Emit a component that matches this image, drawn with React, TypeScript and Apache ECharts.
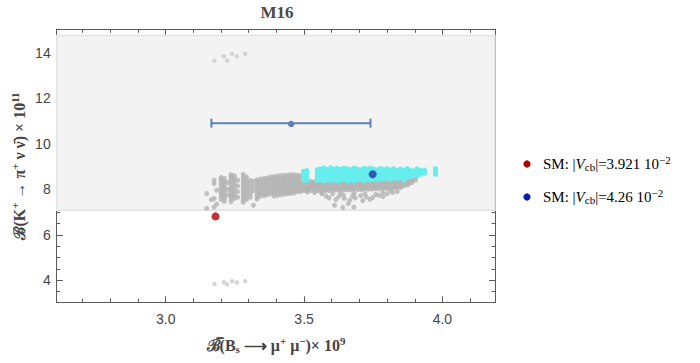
import React, { useEffect, useRef } from "react";
import * as echarts from "echarts";

const X_MIN = 2.606;
const X_MAX = 4.19;
const Y_MIN = 3.03;
const Y_MAX = 15.04;
const X_MAJOR = [3.0, 3.5, 4.0];
const X_MINOR = [2.7, 2.8, 2.9, 3.1, 3.2, 3.3, 3.4, 3.6, 3.7, 3.8, 3.9, 4.1];
const Y_MAJOR = [4, 6, 8, 10, 12, 14];
const Y_MINOR = [3.5, 4.5, 5, 5.5, 6.5, 7, 7.5, 8.5, 9, 9.5, 10.5, 11, 11.5, 12.5, 13, 13.5, 14.5];

// experimental band
const BAND = [7.08, 14.77];

// error bar: [center x, y, low x, high x]
const ERROR_BAR = [[3.453, 10.91, 3.165, 3.74]];

const SM_RED = [[3.18, 6.81]];
const SM_BLUE = [[3.748, 8.66]];

// gray scan points, grouped by column: [x, y values]
const GRAY_COLS: [number, number[]][] = [
  [3.148, [7.81, 7.16]],
  [3.165, [7.55]],
  [3.175, [8.4, 8.25, 7.59, 7.22]],
  [3.184, [7.96, 7.35]],
  [3.2, [8.52, 8.42, 8.3, 8.18, 8.05, 7.92, 7.8, 7.68, 7.55]],
  [3.212, [8.48, 8.35, 8.22, 8.1, 7.98, 7.85, 7.72, 7.6, 7.47]],
  [3.224, [8.3, 8.0, 7.75]],
  [3.236, [8.65, 8.55, 8.45, 8.33, 8.2, 8.08, 7.95, 7.83, 7.7, 7.58, 7.45]],
  [3.248, [8.6, 8.48, 8.35, 8.22, 8.1, 7.97, 7.85, 7.72, 7.6]],
  [3.26, [8.4, 8.15, 7.9, 7.65]],
  [3.28, [8.66, 8.55, 8.43, 8.3, 8.18, 8.05, 7.93, 7.8, 7.68, 7.55, 7.43]],
  [3.292, [8.55, 8.42, 8.3, 8.17, 8.05, 7.92, 7.8, 7.67, 7.55]],
  [3.306, [8.4, 8.25, 8.1, 7.95, 7.8, 7.65]],
  [3.317, [8.35, 8.15, 7.95, 7.3]],
  [3.33, [8.42, 8.3, 8.18, 8.05, 7.93, 7.8, 7.68, 7.57]],
  [3.342, [8.45, 8.33, 8.2, 8.08, 7.95, 7.82, 7.7]],
  [3.355, [8.48, 8.35, 8.22, 8.1, 7.97, 7.85, 7.72]],
  [3.367, [8.5, 8.38, 8.25, 8.12, 8.0, 7.88, 7.76]],
  [3.38, [8.55, 8.42, 8.3, 8.17, 8.05, 7.92, 7.8]],
  [3.392, [8.56, 8.44, 8.32, 8.2, 8.08, 7.95, 7.83, 7.7]],
  [3.404, [8.58, 8.46, 8.34, 8.22, 8.1, 7.98, 7.86, 7.74]],
  [3.416, [8.6, 8.48, 8.36, 8.24, 8.12, 8.0, 7.88, 7.76]],
  [3.428, [8.62, 8.5, 8.38, 8.26, 8.14, 8.02, 7.9, 7.78]],
  [3.44, [8.62, 8.5, 8.38, 8.26, 8.14, 8.02, 7.9, 7.8]],
  [3.452, [8.64, 8.52, 8.4, 8.28, 8.16, 8.04, 7.92, 7.82]],
  [3.464, [8.64, 8.52, 8.4, 8.28, 8.16, 8.04, 7.92, 7.84]],
  [3.476, [8.62, 8.5, 8.38, 8.26, 8.14, 8.02, 7.9]],
  [3.488, [8.6, 8.48, 8.36, 8.24, 8.12, 8.0, 7.9]],
  [3.5, [8.55, 8.43, 8.31, 8.19, 8.07, 7.95]],
  [3.512, [8.35, 8.25, 8.15, 8.05, 7.95, 7.88]],
  [3.525, [8.35, 8.25, 8.15, 8.05, 7.95]],
  [3.538, [8.33, 8.23, 8.13, 8.03, 7.93, 7.86]],
  [3.551, [8.34, 8.24, 8.14, 8.04, 7.94]],
  [3.564, [8.33, 8.23, 8.13, 8.03, 7.93, 7.85]],
  [3.577, [8.34, 8.24, 8.14, 8.04, 7.94]],
  [3.59, [8.33, 8.23, 8.13, 8.03, 7.95]],
  [3.603, [8.34, 8.24, 8.14, 8.04, 7.96, 7.8]],
  [3.616, [8.35, 8.25, 8.15, 8.05, 7.97]],
  [3.629, [8.34, 8.24, 8.14, 8.04, 7.96]],
  [3.642, [8.35, 8.25, 8.15, 8.05, 7.98, 7.75]],
  [3.655, [8.36, 8.26, 8.16, 8.06, 7.98]],
  [3.668, [8.35, 8.25, 8.15, 8.05, 7.97]],
  [3.681, [8.36, 8.26, 8.16, 8.06, 7.99, 7.82]],
  [3.694, [8.37, 8.27, 8.17, 8.07, 7.99]],
  [3.707, [8.36, 8.26, 8.16, 8.06, 7.98]],
  [3.72, [8.37, 8.27, 8.17, 8.07, 8.0, 7.8]],
  [3.733, [8.38, 8.28, 8.18, 8.08, 8.0]],
  [3.746, [8.38, 8.28, 8.18, 8.08, 8.01]],
  [3.759, [8.39, 8.29, 8.19, 8.09, 8.02, 7.78]],
  [3.772, [8.4, 8.3, 8.2, 8.1, 8.02]],
  [3.785, [8.4, 8.3, 8.2, 8.1, 8.03, 7.85]],
  [3.798, [8.41, 8.31, 8.21, 8.11, 8.04]],
  [3.811, [8.42, 8.32, 8.22, 8.12, 8.05, 7.95]],
  [3.824, [8.42, 8.32, 8.22, 8.12, 8.05]],
  [3.837, [8.43, 8.33, 8.23, 8.13, 8.06, 7.9]],
  [3.85, [8.44, 8.34, 8.24, 8.14, 8.08]],
  [3.863, [8.45, 8.35, 8.25, 8.17]],
  [3.876, [8.46, 8.36, 8.26, 8.2]],
  [3.889, [8.46, 8.38, 8.3]],
  [3.902, [8.48, 8.4]],
];

// scattered gray points below the main band
const GRAY_LOW = [
  [3.565, 7.8], [3.58, 7.7], [3.59, 7.62], [3.61, 7.3], [3.615, 7.55],
  [3.625, 7.68], [3.632, 7.82], [3.64, 7.2], [3.645, 7.6], [3.66, 7.37],
  [3.665, 7.52], [3.675, 7.7], [3.68, 7.22], [3.685, 7.62], [3.705, 7.72],
  [3.712, 7.5], [3.725, 7.66], [3.738, 7.56], [3.748, 7.64], [3.77, 7.74],
  [3.785, 7.68], [3.8, 7.8], [3.82, 7.86],
];
// far outliers
const GRAY_OUT = [
  [3.176, 13.66], [3.21, 13.85], [3.222, 13.66], [3.24, 13.96], [3.257, 13.85], [3.287, 13.96],
  [3.176, 3.84], [3.21, 3.91], [3.222, 3.82], [3.24, 3.96], [3.257, 3.9], [3.287, 3.96],
];

// cyan points, grouped as columns: [x, y low, y high]
const CYAN_COLS = [
  [3.498, 8.3, 8.9], [3.51, 8.28, 8.94], [3.548, 8.28, 8.97], [3.56, 8.32, 9.02],
  [3.572, 8.26, 9.05], [3.584, 8.3, 8.98], [3.596, 8.28, 9.06], [3.608, 8.33, 9.0],
  [3.62, 8.26, 9.04], [3.632, 8.3, 8.99], [3.644, 8.34, 9.04], [3.656, 8.27, 9.01],
  [3.668, 8.3, 8.98], [3.68, 8.26, 9.05], [3.692, 8.31, 9.0], [3.704, 8.34, 8.97],
  [3.716, 8.28, 9.04], [3.728, 8.33, 9.0], [3.74, 8.3, 9.05], [3.752, 8.36, 9.0],
  [3.764, 8.31, 8.97], [3.776, 8.36, 9.03], [3.788, 8.34, 8.98], [3.8, 8.4, 9.02],
  [3.812, 8.33, 8.96], [3.824, 8.42, 9.02], [3.836, 8.36, 8.95], [3.848, 8.44, 9.0],
  [3.86, 8.3, 8.95], [3.872, 8.42, 9.03], [3.884, 8.46, 8.96], [3.896, 8.52, 8.92],
  [3.908, 8.48, 9.02], [3.92, 8.55, 8.95], [3.935, 8.6, 8.96], [3.975, 8.55, 9.03],
];

const LEGEND_LABELS = ["3.921", "4.26"];
const LEGEND_COLORS = ["#a80000", "#0c1ca8"];

const FRAME = "#5a5a5a";
const LABEL_FONT = "Liberation Sans";
const SERIF = "Liberation Serif";

function mkX(position: "bottom" | "top", major: boolean, labels: boolean) {
  return {
    type: "value",
    position,
    min: X_MIN,
    max: X_MAX,
    axisLine: { show: true, onZero: false, lineStyle: { color: FRAME, width: 1 } },
    axisTick: {
      show: true,
      inside: true,
      length: major ? 6 : 3.5,
      customValues: major ? X_MAJOR : X_MINOR,
      lineStyle: { color: FRAME, width: 1 },
    },
    axisLabel: labels
      ? {
          show: true,
          customValues: X_MAJOR,
          formatter: (v: number) => v.toFixed(1),
          margin: 10,
          fontSize: 14,
          color: "#444",
          fontFamily: LABEL_FONT,
        }
      : { show: false },
    splitLine: { show: false },
  };
}

function mkY(position: "left" | "right", major: boolean, labels: boolean) {
  return {
    type: "value",
    position,
    min: Y_MIN,
    max: Y_MAX,
    axisLine: { show: true, onZero: false, lineStyle: { color: FRAME, width: 1 } },
    axisTick: {
      show: true,
      inside: true,
      length: major ? 6 : 3.5,
      customValues: major ? Y_MAJOR : Y_MINOR,
      lineStyle: { color: FRAME, width: 1 },
    },
    axisLabel: labels
      ? {
          show: true,
          customValues: Y_MAJOR,
          formatter: (v: number) => String(v),
          margin: 6,
          fontSize: 14,
          color: "#444",
          fontFamily: LABEL_FONT,
        }
      : { show: false },
    splitLine: { show: false },
  };
}

export default function App() {
  const ref = useRef<HTMLDivElement>(null);

  useEffect(() => {
    document.body.style.margin = "0";
    if (!ref.current) return;
    const chart = echarts.init(ref.current, undefined, { renderer: "svg" });

    const grayPts: number[][] = [];
    GRAY_COLS.forEach(([x, ys]) => ys.forEach((y) => grayPts.push([x, y])));
    GRAY_LOW.forEach((p) => grayPts.push(p));

    const supStyle = { fontSize: 11, fontFamily: SERIF, fontWeight: "bold", fill: "#444", padding: [0, 0, 9, 0] };
    const subStyle = { fontSize: 11, fontFamily: SERIF, fontWeight: "bold", fill: "#444", padding: [7, 0, 0, 0] };
    const bStyle = { fontSize: 16, fontFamily: SERIF, fontWeight: "bold", fill: "#444" };

    const legendGraphics: any[] = [];
    LEGEND_LABELS.forEach((lab, i) => {
      const cy = 164 + i * 33;
      legendGraphics.push({
        type: "circle",
        shape: { cx: 527, cy, r: 3.6 },
        style: { fill: LEGEND_COLORS[i] },
      });
      legendGraphics.push({
        type: "text",
        x: 543,
        y: cy,
        style: {
          text: `{n|SM: |}{i|V}{s|cb}{n||=${lab} 10}{p|−2}`,
          align: "left",
          verticalAlign: "middle",
          rich: {
            n: { fontSize: 15, fontFamily: SERIF, fill: "#000" },
            i: { fontSize: 15, fontFamily: SERIF, fontStyle: "italic", fill: "#000" },
            s: { fontSize: 11, fontFamily: SERIF, fill: "#000", padding: [6, 0, 0, 0] },
            p: { fontSize: 11, fontFamily: SERIF, fill: "#000", padding: [0, 0, 9, 0] },
          },
        },
      });
    });

    const option: any = {
      animation: false,
      backgroundColor: "#ffffff",
      grid: { left: 56.7, right: 205, top: 29.3, bottom: 60.7, containLabel: false },
      xAxis: [mkX("bottom", true, true), mkX("bottom", false, false), mkX("top", true, false), mkX("top", false, false)],
      yAxis: [mkY("left", true, true), mkY("left", false, false), mkY("right", true, false), mkY("right", false, false)],
      graphic: [
        {
          type: "text",
          x: 277,
          y: 12,
          style: {
            text: "M16",
            fontSize: 17,
            fontWeight: "bold",
            fontFamily: SERIF,
            fill: "#4a4a4a",
            align: "center",
            verticalAlign: "middle",
          },
        },
        {
          type: "text",
          x: 19,
          y: 166,
          rotation: Math.PI / 2,
          style: {
            text: "{b|ℬ(K}{p|+}{b| → π}{p|+}{b| ν ν̄) × 10}{p|11}",
            align: "center",
            verticalAlign: "middle",
            rich: { b: bStyle, p: supStyle },
          },
        },
        {
          type: "text",
          x: 276,
          y: 345,
          style: {
            text: "{b|ℬ̅(B}{s|s}{b| ⟶ μ}{p|+}{b| μ}{p|−}{b|)× 10}{p|9}",
            align: "center",
            verticalAlign: "middle",
            rich: { b: bStyle, p: supStyle, s: subStyle },
          },
        },
        ...legendGraphics,
      ],
      series: [
        {
          type: "scatter",
          name: "scan",
          xAxisIndex: 0,
          yAxisIndex: 0,
          data: grayPts,
          symbol: "circle",
          symbolSize: 5,
          itemStyle: { color: "#b3b3b3" },
          silent: true,
          markArea: {
            silent: true,
            itemStyle: { color: "#f3f3f3", borderColor: "#e2e2e2", borderWidth: 1.5 },
            data: [[{ yAxis: BAND[0] }, { yAxis: BAND[1] }]],
          },
          z: 2,
        },
        {
          type: "scatter",
          name: "scan outliers",
          xAxisIndex: 0,
          yAxisIndex: 0,
          data: GRAY_OUT,
          symbol: "circle",
          symbolSize: 4.5,
          itemStyle: { color: "#cbcbcb" },
          silent: true,
          z: 2,
        },
        {
          type: "custom",
          name: "cyan",
          xAxisIndex: 0,
          yAxisIndex: 0,
          data: CYAN_COLS,
          renderItem: (params: any, api: any) => {
            const top = api.coord([api.value(0), api.value(2)]);
            const bot = api.coord([api.value(0), api.value(1)]);
            return {
              type: "rect",
              shape: { x: top[0] - 2.5, y: top[1], width: 5, height: bot[1] - top[1], r: 2.5 },
              style: { fill: "#66eeee" },
            };
          },
          silent: true,
          z: 3,
        },
        {
          type: "custom",
          name: "measurement",
          xAxisIndex: 0,
          yAxisIndex: 0,
          data: ERROR_BAR,
          renderItem: (params: any, api: any) => {
            const y = api.value(1);
            const c = api.coord([api.value(0), y]);
            const lo = api.coord([api.value(2), y]);
            const hi = api.coord([api.value(3), y]);
            const col = "#5e81b5";
            return {
              type: "group",
              children: [
                { type: "line", shape: { x1: lo[0], y1: lo[1], x2: hi[0], y2: hi[1] }, style: { stroke: col, lineWidth: 2 } },
                { type: "line", shape: { x1: lo[0], y1: lo[1] - 4.5, x2: lo[0], y2: lo[1] + 4.5 }, style: { stroke: col, lineWidth: 2 } },
                { type: "line", shape: { x1: hi[0], y1: hi[1] - 4.5, x2: hi[0], y2: hi[1] + 4.5 }, style: { stroke: col, lineWidth: 2 } },
                { type: "circle", shape: { cx: c[0], cy: c[1], r: 3.2 }, style: { fill: col } },
              ],
            };
          },
          silent: true,
          z: 4,
        },
        {
          type: "scatter",
          name: "SM 3.921",
          data: SM_RED,
          symbolSize: 8,
          itemStyle: { color: "#b00000" },
          z: 5,
        },
        {
          type: "scatter",
          name: "SM 4.26",
          data: SM_BLUE,
          symbolSize: 8,
          itemStyle: { color: "#2232ab" },
          z: 5,
        },
      ],
    };

    chart.setOption(option);
    return () => chart.dispose();
  }, []);

  return <div ref={ref} style={{ width: 700, height: 363 }} />;
}
